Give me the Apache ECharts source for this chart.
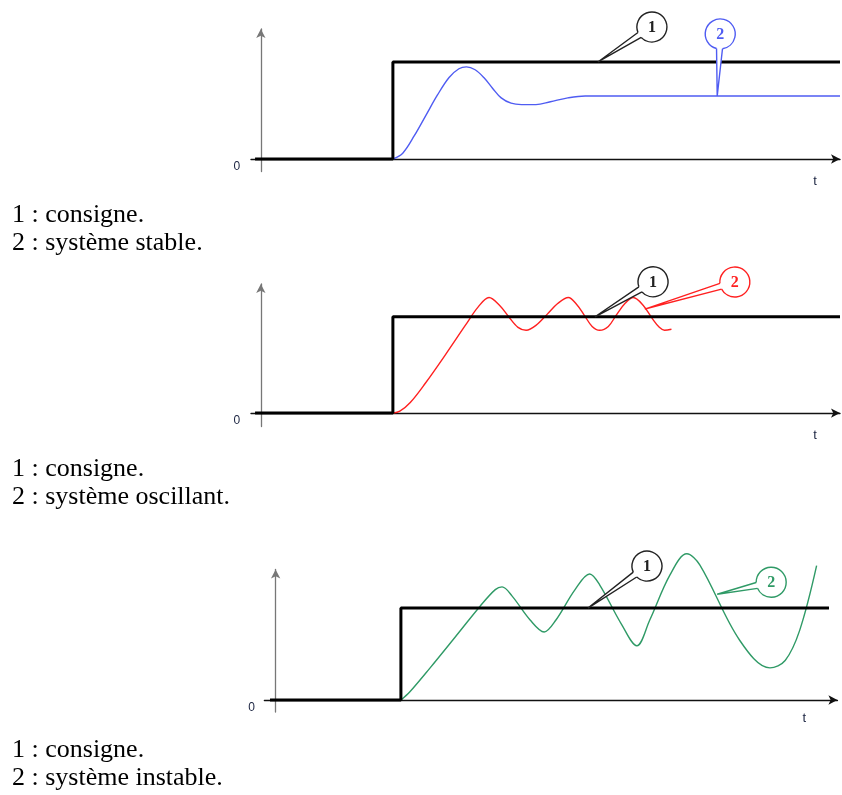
<!DOCTYPE html>
<html>
<head>
<meta charset="utf-8">
<script src="https://cdn.jsdelivr.net/npm/echarts@6/dist/echarts.min.js"></script>
<style>
  html, body { margin: 0; padding: 0; background: #fff; }
  #chart { width: 842px; height: 795px; }
</style>
</head>
<body>
<div id="chart"></div>
<script>
// consigne (échelon) pour chaque panneau
var consigne1 = [[-0.1, 0], [2.28, 0], [2.28, 1], [10, 1]];
var consigne2 = [[-0.1, 0], [2.28, 0], [2.28, 1], [10, 1]];
var consigne3 = [[-0.1, 0], [2.23, 0], [2.23, 1], [9.85, 1]];

// système stable (bleu)
var stable = [
  [2.28, 0], [2.45, 0.06], [2.65, 0.24], [2.85, 0.45], [3.05, 0.66], [3.25, 0.84],
  [3.42, 0.93], [3.55, 0.95], [3.70, 0.92], [3.85, 0.84], [4.0, 0.73], [4.15, 0.63],
  [4.32, 0.575], [4.5, 0.56], [4.75, 0.56], [5.0, 0.59], [5.3, 0.63], [5.6, 0.65], [10, 0.65]
];

// système oscillant (rouge)
var oscillant = [
  [2.28, 0], [2.40, 0.02], [2.58, 0.11], [2.84, 0.31], [3.18, 0.60], [3.53, 0.91],
  [3.75, 1.10], [3.94, 1.20], [4.12, 1.12], [4.28, 1.0], [4.44, 0.89], [4.58, 0.86],
  [4.75, 0.91], [4.95, 1.03], [5.13, 1.14], [5.31, 1.20], [5.45, 1.13], [5.58, 1.02],
  [5.72, 0.90], [5.85, 0.86], [6.0, 0.90], [6.14, 1.02], [6.29, 1.14], [6.43, 1.20],
  [6.6, 1.12], [6.76, 0.98], [6.88, 0.89], [6.97, 0.86], [7.09, 0.87]
];

// système instable (vert)
var instable = [
  [2.23, 0], [2.39, 0.09], [2.75, 0.35], [3.19, 0.68], [3.64, 1.02], [3.91, 1.20],
  [4.03, 1.23], [4.21, 1.13], [4.53, 0.87], [4.78, 0.74], [4.99, 0.87], [5.33, 1.20],
  [5.59, 1.37], [5.77, 1.25], [6.16, 0.82], [6.43, 0.59], [6.66, 0.87], [7.02, 1.36],
  [7.32, 1.59], [7.55, 1.47], [8.26, 0.65], [8.8, 0.35], [9.07, 0.43], [9.33, 0.76],
  [9.63, 1.46]
];

// pointes des bulles 1 et 2
var bulles1 = [[5.82, 1, '1'], [7.88, 0.65, '2']];
var bulles2 = [[5.77, 1, '1'], [6.63, 1.08, '2']];
var bulles3 = [[5.56, 1, '1'], [7.86, 1.15, '2']];

var legendes = [
  ['1 : consigne.', '2 : système stable.'],
  ['1 : consigne.', '2 : système oscillant.'],
  ['1 : consigne.', '2 : système instable.']
];

var couleurs = ['#4f5cf2', '#ff2020', '#2f9a66'];

var myChart = echarts.init(document.getElementById('chart'));

function axeX(i, min) {
  return {
    type: 'value', gridIndex: i, min: min, max: 10,
    axisLine: { show: true, symbol: ['none', 'arrow'], symbolSize: [7, 9],
      lineStyle: { color: '#111', width: 1.4 } },
    axisTick: { show: false }, axisLabel: { show: false }, splitLine: { show: false }
  };
}
function axeY(i, min, max) {
  return {
    type: 'value', gridIndex: i, min: min, max: max,
    axisLine: { show: true, symbol: ['none', 'arrow'], symbolSize: [7, 9],
      lineStyle: { color: '#777', width: 1.3 } },
    axisTick: { show: false }, axisLabel: { show: false }, splitLine: { show: false }
  };
}

// bulle : cercle + pointe (offset en pixels depuis la pointe)
function bulle(couleurs2, offsets) {
  return function (params, api) {
    var p = api.coord([api.value(0), api.value(1)]);
    var k = params.dataIndex;
    var col = couleurs2[k];
    var cx = p[0] + offsets[k][0], cy = p[1] + offsets[k][1];
    var r = 15;
    var ang = Math.atan2(p[1] - cy, p[0] - cx);
    var half = 0.2;
    var a1 = ang - half, a2 = ang + half;
    var p1 = [cx + r * Math.cos(a1), cy + r * Math.sin(a1)];
    var p2 = [cx + r * Math.cos(a2), cy + r * Math.sin(a2)];
    return {
      type: 'group',
      children: [
        { type: 'polygon', shape: { points: [p1, p, p2] }, style: { fill: '#fff' } },
        { type: 'circle', shape: { cx: cx, cy: cy, r: r }, style: { fill: '#fff' } },
        { type: 'arc', shape: { cx: cx, cy: cy, r: r, startAngle: a2, endAngle: a1 + Math.PI * 2, clockwise: true },
          style: { stroke: col, lineWidth: 1.4, fill: null } },
        { type: 'polyline', shape: { points: [p1, p, p2] }, style: { stroke: col, lineWidth: 1.4, fill: null } },
        { type: 'text', style: { text: api.value(2), x: cx, y: cy + 1, align: 'center', verticalAlign: 'middle',
          font: 'bold 16px "Liberation Serif"', fill: k === 0 ? '#222' : col } }
      ]
    };
  };
}

function serieEchelon(i, data) {
  return { type: 'line', xAxisIndex: i, yAxisIndex: i, data: data, symbol: 'none', z: 5,
    lineStyle: { color: '#000', width: 3 } };
}
function serieReponse(i, data, col) {
  return { type: 'line', xAxisIndex: i, yAxisIndex: i, data: data, symbol: 'none', smooth: 0.35, z: 3, clip: false,
    lineStyle: { color: col, width: 1.4 } };
}
function serieBulles(i, data, col, offsets) {
  return { type: 'custom', xAxisIndex: i, yAxisIndex: i, data: data, z: 10, clip: false,
    dimensions: ['t', 'y', 'n'],
    encode: { x: 0, y: 1 },
    renderItem: bulle(['#222', col], offsets) };
}

myChart.setOption({
  animation: false,
  grid: [
    { left: 251, width: 589, top: 29, height: 142.6 },
    { left: 251, width: 589, top: 284, height: 142.6 },
    { left: 264.4, width: 573, top: 569.4, height: 142.6 }
  ],
  xAxis: [axeX(0, -0.17), axeX(1, -0.17), axeX(2, -0.2)],
  yAxis: [axeY(0, -0.13, 1.34), axeY(1, -0.14, 1.34), axeY(2, -0.13, 1.42)],
  series: [
    serieReponse(0, stable, couleurs[0]),
    serieEchelon(0, consigne1),
    serieBulles(0, bulles1, couleurs[0], [[54, -35], [3, -62]]),
    serieReponse(1, oscillant, couleurs[1]),
    serieEchelon(1, consigne2),
    serieBulles(1, bulles2, couleurs[1], [[58, -35], [90, -27]]),
    serieReponse(2, instable, couleurs[2]),
    serieEchelon(2, consigne3),
    serieBulles(2, bulles3, couleurs[2], [[59, -42], [54, -12]])
  ]
});

// textes : "0", "t" et légendes sous chaque panneau
var graphics = [];
var legendeY = [[215, 243.5], [469, 497.5], [750, 778.5]];
for (var i = 0; i < 3; i++) {
  var o = myChart.convertToPixel({ gridIndex: i }, [0, 0]);
  var e = myChart.convertToPixel({ gridIndex: i }, [10, 0]);
  graphics.push({ type: 'text', x: o[0] - 24, y: o[1] + 8,
    style: { text: '0', font: '12px "Liberation Sans"', fill: '#1a2340', align: 'center', verticalAlign: 'middle' } });
  graphics.push({ type: 'text', x: e[0] - (i === 2 ? 33 : 25), y: e[1] + (i === 2 ? 18 : 22),
    style: { text: 't', font: '13px "Liberation Sans"', fill: '#1a2340', align: 'center', verticalAlign: 'middle' } });
  for (var j = 0; j < 2; j++) {
    graphics.push({ type: 'text', x: 12, y: legendeY[i][j],
      style: { text: legendes[i][j], font: '26px "Liberation Serif"', fill: '#000', verticalAlign: 'middle' } });
  }
}
myChart.setOption({ graphic: graphics });
</script>
</body>
</html>
